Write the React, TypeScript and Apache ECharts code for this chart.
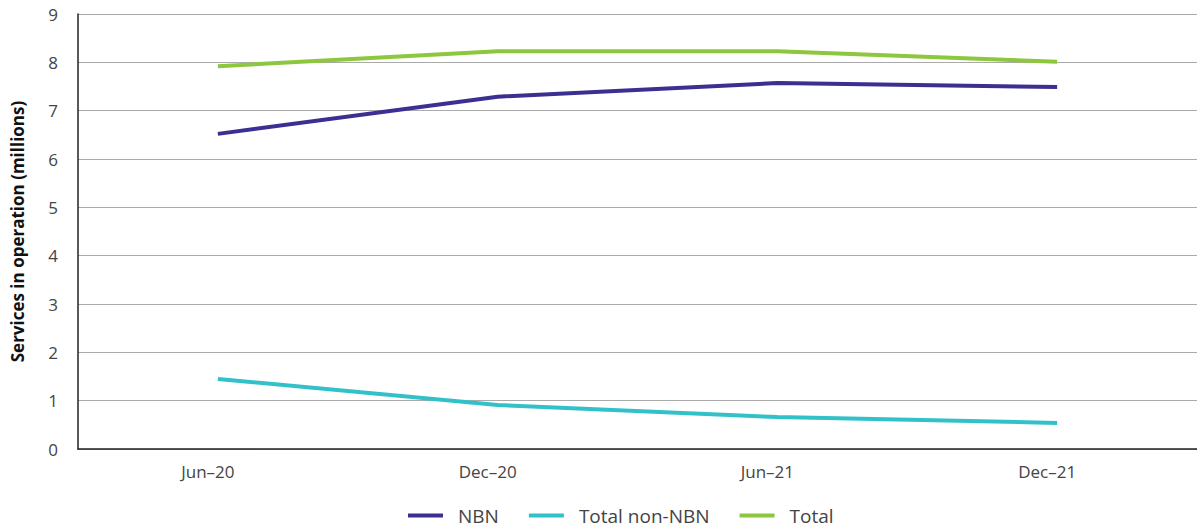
import React, { useEffect, useRef } from "react";
import * as echarts from "echarts";

const categories = ["Jun–20", "Dec–20", "Jun–21", "Dec–21"];
const nbn = [6.52, 7.29, 7.57, 7.49];
const nonNbn = [1.45, 0.91, 0.66, 0.54];
const total = [7.92, 8.23, 8.23, 8.01];

const FONT = "'Open Sans', sans-serif";

export default function App() {
  const ref = useRef<HTMLDivElement>(null);
  useEffect(() => {
    const chart = echarts.init(ref.current!, null, { renderer: "svg" });
    const mk = (name: string, data: number[], color: string) => ({
      name,
      type: "line",
      data,
      symbol: "none",
      lineStyle: { color, width: 4 },
      itemStyle: { color },
    });
    chart.setOption({
      animation: false,
      grid: { left: 78, right: 0, top: 14, bottom: 80, outerBoundsMode: "none", containLabel: false },
      legend: {
        bottom: -1,
        left: 403,
        icon: "rect",
        itemWidth: 35,
        itemHeight: 4,
        itemGap: 30,
        textStyle: { fontFamily: FONT, fontSize: 19, color: "#444", padding: [0, 0, 0, 10] },
        data: ["NBN", "Total non-NBN", "Total"],
      },
      xAxis: {
        type: "category",
        data: categories,
        boundaryGap: true,
        axisLine: { lineStyle: { color: "#222", width: 1.5 } },
        axisTick: { show: false },
        axisLabel: { fontFamily: FONT, fontSize: 17, color: "#444", margin: 14, padding: [0, 20, 0, 0] },
      },
      yAxis: {
        type: "value",
        min: 0,
        max: 9,
        interval: 1,
        name: "Services in operation (millions)",
        nameLocation: "middle",
        nameGap: 52,
        nameTextStyle: { fontFamily: FONT, fontSize: 17, fontWeight: "bold", color: "#111" },
        axisLine: { show: true, lineStyle: { color: "#222", width: 1.5 } },
        axisTick: { show: false },
        axisLabel: { fontFamily: FONT, fontSize: 17, color: "#444", margin: 20 },
        splitLine: { lineStyle: { color: "#aaa", width: 1 } },
      },
      series: [
        mk("NBN", nbn, "#3b2f91"),
        mk("Total non-NBN", nonNbn, "#33c1c9"),
        mk("Total", total, "#8dc63f"),
      ],
    });
    return () => chart.dispose();
  }, []);
  return (
    <div
      ref={ref}
      style={{ position: "fixed", left: 0, top: 0, width: 1197, height: 529, background: "#fff" }}
    />
  );
}
